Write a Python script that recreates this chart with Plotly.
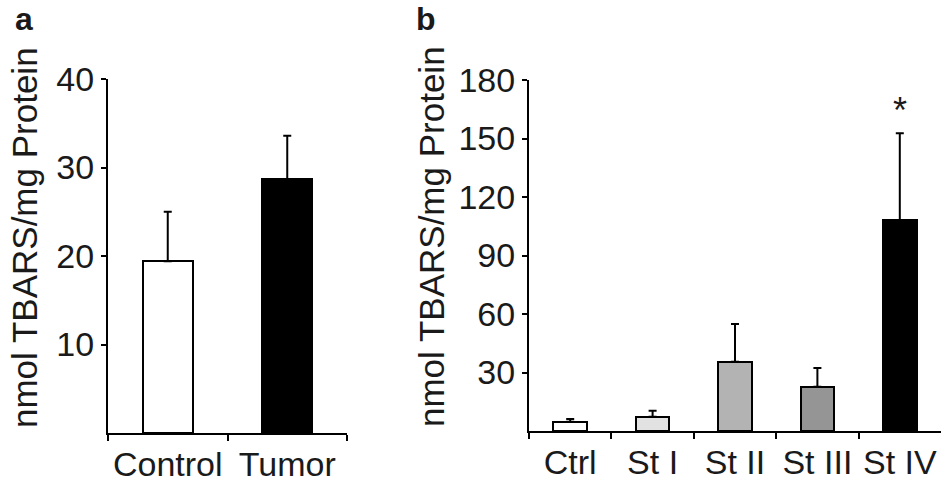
import plotly.graph_objects as go

# Panel a data
cats_a = ["Control", "Tumor"]
mean_a = [19.4, 28.7]
err_a = [5.6, 4.9]
colors_a = ["#ffffff", "#000000"]
yticks_a = [10, 20, 30, 40]

# Panel b data
cats_b = ["Ctrl", "St I", "St II", "St III", "St IV"]
mean_b = [4.8, 7.3, 35.5, 22.7, 108.2]
err_b = [1.4, 3.1, 19.4, 9.6, 44.5]
colors_b = ["#ffffff", "#e2e2e2", "#b3b3b3", "#959595", "#000000"]
yticks_b = [30, 60, 90, 120, 150, 180]

ytitle = "nmol TBARS/mg Protein"
FONT = "Liberation Sans, Arial, sans-serif"
TXT = "#1a1a1a"
PAD = "\u00a0\u2009"  # spacing between y tick labels and ticks

fig = go.Figure()

fig.add_trace(go.Bar(
    x=cats_a, y=mean_a, width=0.42,
    marker=dict(color=colors_a, line=dict(color="black", width=2)),
    error_y=dict(type="data", array=err_a, arrayminus=[0] * len(err_a), symmetric=False,
                 color="black", thickness=2, width=4),
    xaxis="x", yaxis="y", showlegend=False,
))
fig.add_trace(go.Bar(
    x=cats_b, y=mean_b, width=0.41,
    marker=dict(color=colors_b, line=dict(color="black", width=2)),
    error_y=dict(type="data", array=err_b, arrayminus=[0] * len(err_b), symmetric=False,
                 color="black", thickness=2, width=4),
    xaxis="x2", yaxis="y2", showlegend=False,
))

W, H = 944, 484
axcommon = dict(showline=True, linecolor="black", linewidth=2, showgrid=False, zeroline=False,
                ticks="outside", tickcolor="black", tickwidth=2, automargin=False,
                tickfont=dict(family=FONT, size=34, color=TXT))

fig.update_layout(
    width=W, height=H,
    margin=dict(l=0, r=0, t=0, b=0, autoexpand=False),
    paper_bgcolor="white", plot_bgcolor="white",
    bargap=0,
    xaxis=dict(domain=[108 / W, 347 / W], anchor="y", type="category", tickson="boundaries",
               tickangle=0, ticklen=6, **axcommon),
    yaxis=dict(domain=[1 - 433 / H, 1 - 79 / H], anchor="x", range=[0, 40], tickvals=yticks_a,
               ticksuffix=PAD, ticklen=5, **axcommon),
    xaxis2=dict(domain=[529 / W, 941 / W], anchor="y2", type="category", tickson="boundaries",
                tickangle=0, ticklen=6, **axcommon),
    yaxis2=dict(domain=[1 - 431 / H, 1 - 80 / H], anchor="x2", range=[0, 180], tickvals=yticks_b,
                ticksuffix=PAD, ticklen=5, **axcommon),
)

annots = [
    dict(text=ytitle, x=24 / W, y=1 - 238 / H, xref="paper", yref="paper", textangle=-90,
         showarrow=False, font=dict(family=FONT, size=35, color=TXT), xanchor="center", yanchor="middle"),
    dict(text=ytitle, x=431 / W, y=1 - 237 / H, xref="paper", yref="paper", textangle=-90,
         showarrow=False, font=dict(family=FONT, size=35, color=TXT), xanchor="center", yanchor="middle"),
    dict(text="<b>a</b>", x=24 / W, y=1, xref="paper", yref="paper", showarrow=False, borderpad=0,
         font=dict(family=FONT, size=32, color=TXT), xanchor="center", yanchor="top"),
    dict(text="<b>b</b>", x=426 / W, y=1, xref="paper", yref="paper", showarrow=False, borderpad=0,
         font=dict(family=FONT, size=32, color=TXT), xanchor="center", yanchor="top"),
    dict(text="*", x=cats_b[4], y=mean_b[4] + err_b[4], xref="x2", yref="y2", showarrow=False,
         font=dict(family=FONT, size=36, color=TXT), xanchor="center", yanchor="bottom", yshift=0),
]
fig.update_layout(annotations=annots)

fig.write_html("out.html")
